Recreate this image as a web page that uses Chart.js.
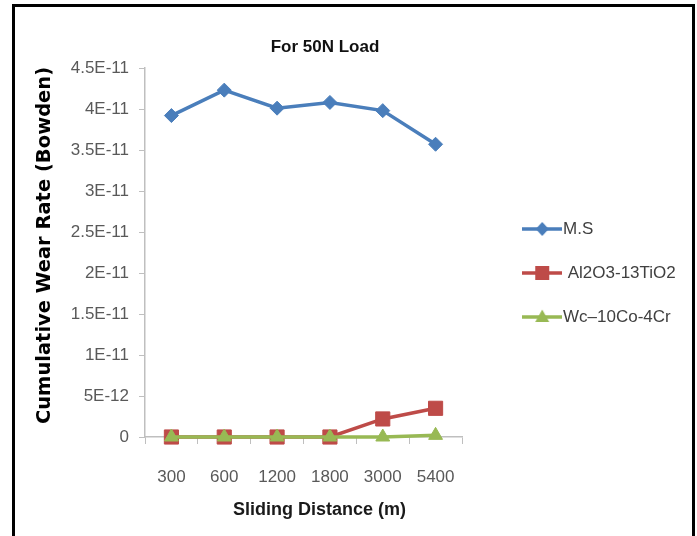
<!DOCTYPE html>
<html><head><meta charset="utf-8">
<script src="https://cdn.jsdelivr.net/npm/chart.js@4.4.1/dist/chart.umd.min.js"></script>
<style>
html,body{margin:0;padding:0;background:#fff;overflow:hidden;}
#wrap{position:relative;width:697px;height:536px;}
#frame{position:absolute;left:12px;top:4px;width:683px;height:600px;border:3px solid #000;border-bottom:none;box-sizing:border-box;pointer-events:none;}
canvas{position:absolute;left:0;top:0;}
</style></head><body>
<div id="wrap"><canvas id="c" width="697" height="536"></canvas><div id="frame"></div></div>
<script>
const categories = ['300', '600', '1200', '1800', '3000', '5400'];
const msValues = [3.92e-11, 4.23e-11, 4.01e-11, 4.08e-11, 3.98e-11, 3.57e-11];
const al2o3Values = [0, 0, 0, 0, 2.2e-12, 3.5e-12];
const wcValues = [0, 0, 0, 0, 0, 2e-13];
const seriesNames = ['M.S', ' Al2O3-13TiO2', 'Wc\u201310Co-4Cr'];
const yTickValues = [0, 5e-12, 1e-11, 1.5e-11, 2e-11, 2.5e-11, 3e-11, 3.5e-11, 4e-11, 4.5e-11];
const yTickLabels = ['0', '5E-12', '1E-11', '1.5E-11', '2E-11', '2.5E-11', '3E-11', '3.5E-11', '4E-11', '4.5E-11'];

const FONT = "'Liberation Sans', Arial, sans-serif";
const colors = ['#4a7ebb', '#be4b48', '#98b954'];
const styles = ['rectRot', 'rect', 'triangle'];

function legendIcon(color, style) {
  const c = document.createElement('canvas');
  c.width = 40; c.height = 20;
  const g = c.getContext('2d');
  g.strokeStyle = color; g.lineWidth = 3.5;
  g.beginPath(); g.moveTo(0, 10); g.lineTo(40, 10); g.stroke();
  g.fillStyle = color;
  g.beginPath();
  if (style === 'rectRot') { g.moveTo(20, 3); g.lineTo(26.5, 10); g.lineTo(20, 17); g.lineTo(13.5, 10); g.closePath(); }
  else if (style === 'rect') { g.rect(13, 3, 14, 14); }
  else { g.moveTo(20, 2.5); g.lineTo(27, 15); g.lineTo(13, 15); g.closePath(); }
  g.fill();
  return c;
}
const icons = colors.map((c, i) => legendIcon(c, styles[i]));

function shiftTitle(scale, dx, dy) {
  if (!scale || scale._titleShifted) return;
  const orig = scale.drawTitle;
  scale.drawTitle = function () {
    this.ctx.save();
    this.ctx.translate(dx, dy);
    orig.apply(this, arguments);
    this.ctx.restore();
  };
  scale._titleShifted = true;
}

const placePlugin = {
  id: 'place',
  afterLayout(chart) {
    const t = chart.titleBlock;
    if (t) { t.left = 0; t.right = 650; t.top = 36.8; t.bottom = t.top + 20.4; }
    const l = chart.legend;
    if (l) { l.left = 503; l.right = 697; l.width = 194; l.top = 193.5; l.bottom = 420; l.height = 226.5; }
    shiftTitle(chart.scales.y, 0, -7);
    shiftTitle(chart.scales.x, 16, 0);
  }
};

function ds(i, data, radius, order) {
  return {
    label: seriesNames[i], data: data,
    borderColor: colors[i], backgroundColor: colors[i],
    borderWidth: 3.5, pointStyle: styles[i], pointRadius: radius, pointHoverRadius: radius,
    pointBorderWidth: 1, pointBorderColor: colors[i], pointBackgroundColor: colors[i],
    tension: 0, order: order, clip: false
  };
}

new Chart(document.getElementById('c'), {
  type: 'line',
  data: {
    labels: categories,
    datasets: [ds(0, msValues, 7, 2), ds(1, al2o3Values, 10, 1), ds(2, wcValues, 8, 0)]
  },
  options: {
    responsive: false, animation: false, devicePixelRatio: 1, events: [],
    layout: { padding: { top: 47.6, left: 0, right: 235, bottom: 0 } },
    plugins: {
      tooltip: { enabled: false },
      title: { display: true, text: 'For 50N Load', color: '#111', padding: 0,
        font: { family: FONT, size: 17, weight: 'bold' } },
      legend: {
        position: 'chartArea', align: 'start',
        labels: {
          usePointStyle: true, pointStyleWidth: 24.5, boxHeight: 20, padding: 27,
          color: '#404040', font: { family: FONT, size: 17 },
          generateLabels: (chart) => chart.data.datasets.map((d, i) => ({
            text: d.label, pointStyle: icons[i], fillStyle: d.borderColor, strokeStyle: d.borderColor,
            lineWidth: 0, hidden: false, datasetIndex: i, fontColor: '#404040'
          }))
        }
      }
    },
    scales: {
      x: {
        type: 'category', offset: true,
        grid: { display: true, offset: true, drawOnChartArea: false, drawTicks: true, tickLength: 7, color: '#bfbfbf', lineWidth: 1 },
        border: { display: true, color: '#bfbfbf', width: 1.5 },
        ticks: { font: { family: FONT, size: 17 }, color: '#595959', padding: 22.8, maxRotation: 0, autoSkip: false },
        title: { display: true, text: 'Sliding Distance (m)', color: '#1a1a1a',
          font: { family: FONT, size: 18, weight: 'bold' }, padding: { top: 0, bottom: 15.2 } },
        afterFit: (s) => { s.height = 99; }
      },
      y: {
        min: 0, max: 4.5e-11,
        afterBuildTicks: (s) => { s.ticks = yTickValues.map(v => ({ value: v })); },
        ticks: { callback: (v, i) => yTickLabels[i], font: { family: FONT, size: 17 }, color: '#595959', padding: 10 },
        grid: { display: true, drawOnChartArea: false, drawTicks: true, tickLength: 6, color: '#bfbfbf', lineWidth: 1 },
        border: { display: true, color: '#bfbfbf', width: 1.5 },
        title: { display: true, text: 'Cumulative Wear Rate (Bowden)', color: '#000',
          font: { family: "'DejaVu Sans', sans-serif", size: 19.5, weight: 'bold' }, padding: { top: 33.5, bottom: 0 } },
        afterFit: (s) => { s.width = 145; }
      }
    }
  },
  plugins: [placePlugin]
});
</script>
</body></html>
